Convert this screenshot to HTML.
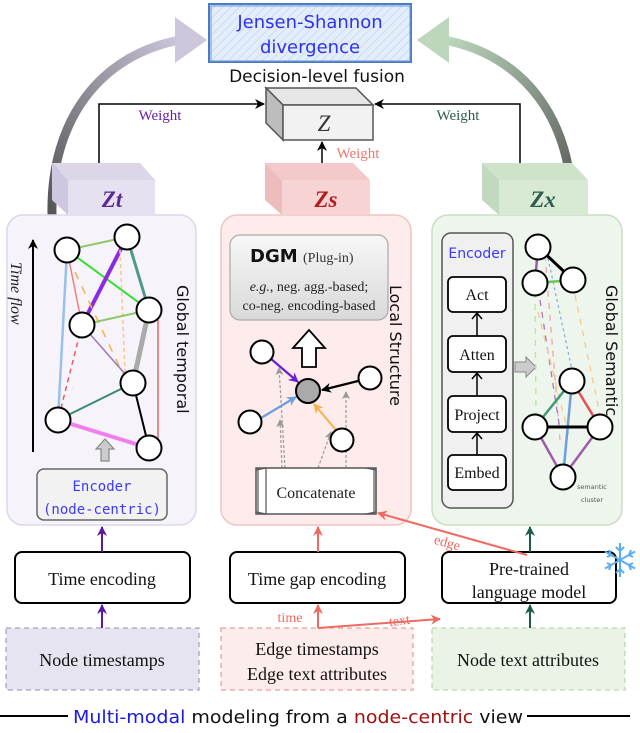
<!DOCTYPE html>
<html><head><meta charset="utf-8"><style>
body{margin:0;background:#fff}
svg{display:block}
.s{font-family:"Liberation Serif",serif}
.c{font-family:"DejaVu Sans",sans-serif}
.m{font-family:"DejaVu Sans Mono","Liberation Mono",monospace}
</style></head><body>
<svg width="640" height="733" viewBox="0 0 640 733" xmlns="http://www.w3.org/2000/svg">
<defs>
<marker id="ap" markerWidth="10" markerHeight="10" refX="9" refY="5" orient="auto" markerUnits="userSpaceOnUse"><path d="M0,0 L10,5 L0,10 L3,5z" fill="#5a17a8"/></marker>
<marker id="ar" markerWidth="10" markerHeight="10" refX="9" refY="5" orient="auto" markerUnits="userSpaceOnUse"><path d="M0,0 L10,5 L0,10 L3,5z" fill="#ee6a62"/></marker>
<marker id="ag" markerWidth="10" markerHeight="10" refX="9" refY="5" orient="auto" markerUnits="userSpaceOnUse"><path d="M0,0 L10,5 L0,10 L3,5z" fill="#1e5c4a"/></marker>
<marker id="au" markerWidth="10" markerHeight="10" refX="9" refY="5" orient="auto" markerUnits="userSpaceOnUse"><path d="M0,0 L10,5 L0,10 L3,5z" fill="#6a1fd0"/></marker>
<marker id="abl" markerWidth="10" markerHeight="10" refX="9" refY="5" orient="auto" markerUnits="userSpaceOnUse"><path d="M0,0 L10,5 L0,10 L3,5z" fill="#6c9ee0"/></marker>
<marker id="ao" markerWidth="10" markerHeight="10" refX="9" refY="5" orient="auto" markerUnits="userSpaceOnUse"><path d="M0,0 L10,5 L0,10 L3,5z" fill="#f6b04c"/></marker>
<marker id="ak" markerWidth="10" markerHeight="10" refX="9" refY="5" orient="auto" markerUnits="userSpaceOnUse"><path d="M0,0 L10,5 L0,10 L3,5z" fill="#000"/></marker>
<marker id="agr" markerWidth="8" markerHeight="8" refX="7" refY="4" orient="auto" markerUnits="userSpaceOnUse"><path d="M0,0 L8,4 L0,8 L2,4z" fill="#999"/></marker>
<linearGradient id="gL" x1="0" y1="1" x2="1" y2="0"><stop offset="0" stop-color="#555"/><stop offset="1" stop-color="#cdc6dc"/></linearGradient>
<linearGradient id="gR" x1="1" y1="1" x2="0" y2="0"><stop offset="0" stop-color="#555"/><stop offset="1" stop-color="#bcd7bc"/></linearGradient>
<linearGradient id="dg" x1="0" y1="0" x2="0" y2="1"><stop offset="0" stop-color="#f7f7f7"/><stop offset="1" stop-color="#d9d9d9"/></linearGradient>
<pattern id="hatch" width="6" height="6" patternUnits="userSpaceOnUse" patternTransform="rotate(45)"><line x1="0" y1="0" x2="0" y2="6" stroke="#b8d0ec" stroke-width="1.2"/></pattern>
</defs>

<path d="M52,215 C50,120 100,55 180,40" fill="none" stroke="url(#gL)" stroke-width="9"/>
<polygon points="175,17 207,40 175,63" fill="#cdc6dc"/>
<path d="M572,215 C574,120 524,55 444,40" fill="none" stroke="url(#gR)" stroke-width="9"/>
<polygon points="449,17 417,40 449,63" fill="#bcd7bc"/>

<rect x="209" y="4" width="202" height="58" fill="#e3eefa"/>
<rect x="209" y="4" width="202" height="58" fill="url(#hatch)" stroke="#4a7cc6" stroke-width="2"/>
<rect x="211" y="6" width="199" height="55" fill="none" stroke="#6d97d6" stroke-width="1"/>
<text x="310" y="28" text-anchor="middle" class="c" font-size="18" fill="#3030f0">Jensen-Shannon</text>
<text x="310" y="53" text-anchor="middle" class="c" font-size="18" fill="#3030f0">divergence</text>
<text x="317" y="82" text-anchor="middle" class="c" font-size="17" fill="#111">Decision-level fusion</text>

<polygon points="266,88 356,88 373,105 283,105" fill="#e6e6e6" stroke="#555" stroke-width="1.5"/>
<polygon points="266,88 283,105 283,140 266,123" fill="#bdbdbd" stroke="#555" stroke-width="1.5"/>
<rect x="283" y="105" width="90" height="35" fill="#f2f2f2" stroke="#555" stroke-width="1.5"/>
<text x="324" y="131" text-anchor="middle" class="s" font-style="italic" font-size="23" fill="#333">Z</text>

<path d="M99,163 V104 H264" fill="none" stroke="#000" stroke-width="1.5" marker-end="url(#ak)"/>
<text x="160" y="120" text-anchor="middle" class="s" font-size="15" fill="#6a1fa8">Weight</text>
<path d="M520,163 V104 H375" fill="none" stroke="#000" stroke-width="1.5" marker-end="url(#ak)"/>
<text x="458" y="120" text-anchor="middle" class="s" font-size="15" fill="#2f5d4c">Weight</text>
<path d="M322,163 V142" fill="none" stroke="#000" stroke-width="1.5" marker-end="url(#ak)"/>
<text x="358" y="158" text-anchor="middle" class="s" font-size="15" fill="#ee7770">Weight</text>

<rect x="7" y="215" width="189" height="310" rx="16" fill="#f6f4fa" stroke="#ddd6ea" stroke-width="1.5"/>
<rect x="221" y="215" width="190" height="310" rx="16" fill="#fdeceb" stroke="#f0c4c2" stroke-width="1.5"/>
<rect x="432" y="215" width="190" height="310" rx="16" fill="#eef5ec" stroke="#c8dfc4" stroke-width="1.5"/>

<g>
<polygon points="52,163 140,163 155,180 68,180" fill="#dcd6e8"/>
<polygon points="52,163 68,180 68,215 52,200" fill="#cfc7df"/>
<rect x="68" y="180" width="87" height="35" fill="#e6e1f0"/>
<text x="112" y="207" text-anchor="middle" class="s" font-style="italic" font-weight="bold" font-size="23" fill="#5b2a91">Zt</text>
<polygon points="265,163 353,163 370,180 282,180" fill="#f4c9c9"/>
<polygon points="265,163 282,180 282,215 265,200" fill="#eebcbc"/>
<rect x="282" y="180" width="88" height="35" fill="#f7d3d3"/>
<text x="326" y="207" text-anchor="middle" class="s" font-style="italic" font-weight="bold" font-size="23" fill="#b01d1d">Zs</text>
<polygon points="482,163 572,163 588,180 499,180" fill="#cfe3cb"/>
<polygon points="482,163 499,180 499,215 482,200" fill="#c1d9bd"/>
<rect x="499" y="180" width="89" height="35" fill="#d8e9d4"/>
<text x="543" y="207" text-anchor="middle" class="s" font-style="italic" font-weight="bold" font-size="23" fill="#2f5d4c">Zx</text>
</g>

<path d="M33,452 V240" stroke="#000" stroke-width="2" marker-end="url(#ak)"/>
<text transform="translate(11,262) rotate(90)" class="s" font-style="italic" font-size="16" fill="#222">Time flow</text>
<text transform="translate(177,285) rotate(90)" class="c" font-size="16" fill="#111">Global temporal</text>
<g fill="none">
<line x1="67" y1="250" x2="58" y2="420" stroke="#99c0e8" stroke-width="2.5"/>
<line x1="67" y1="250" x2="82" y2="325" stroke="#f08080" stroke-width="1.5"/>
<line x1="67" y1="250" x2="127" y2="237" stroke="#8fc96b" stroke-width="2"/>
<line x1="67" y1="250" x2="149" y2="310" stroke="#33dd33" stroke-width="2"/>
<line x1="127" y1="237" x2="82" y2="325" stroke="#8a2be2" stroke-width="4"/>
<line x1="127" y1="237" x2="149" y2="310" stroke="#4e9a86" stroke-width="3"/>
<line x1="120" y1="250" x2="125" y2="372" stroke="#f8c88a" stroke-width="1.5" stroke-dasharray="4,3"/>
<line x1="75" y1="272" x2="135" y2="400" stroke="#f8b04c" stroke-width="1.5" stroke-dasharray="8,8"/>
<line x1="82" y1="325" x2="149" y2="310" stroke="#8fc96b" stroke-width="2"/>
<line x1="82" y1="325" x2="58" y2="420" stroke="#ef5a5a" stroke-width="1.5" stroke-dasharray="5,4"/>
<line x1="82" y1="325" x2="133" y2="383" stroke="#9b7ac0" stroke-width="1.5"/>
<line x1="149" y1="310" x2="133" y2="383" stroke="#aaa" stroke-width="5"/>
<line x1="158" y1="320" x2="158" y2="440" stroke="#e05050" stroke-width="1.3"/>
<line x1="133" y1="383" x2="58" y2="420" stroke="#3e8a70" stroke-width="2"/>
<line x1="133" y1="383" x2="149" y2="448" stroke="#000" stroke-width="2"/>
<line x1="58" y1="420" x2="149" y2="448" stroke="#f07ef0" stroke-width="4"/>
</g>
<g fill="#fff" stroke="#000" stroke-width="2">
<circle cx="67" cy="250" r="12.5"/><circle cx="127" cy="237" r="12.5"/><circle cx="82" cy="325" r="12.5"/>
<circle cx="149" cy="310" r="12.5"/><circle cx="133" cy="383" r="12.5"/><circle cx="58" cy="420" r="12.5"/><circle cx="149" cy="448" r="12.5"/>
</g>
<polygon points="105,439 114,449 109,449 109,461 101,461 101,449 96,449" fill="#ccc" stroke="#888" stroke-width="1.2"/>
<rect x="37" y="469" width="130" height="51" rx="7" fill="#f2f2f2" stroke="#666" stroke-width="1.5"/>
<text x="102" y="491" text-anchor="middle" class="m" font-size="14" fill="#3b3bf5">Encoder</text>
<text x="102" y="514" text-anchor="middle" class="m" font-size="14" fill="#3b3bf5">(node-centric)</text>

<rect x="230" y="235" width="158" height="85" rx="10" fill="url(#dg)" stroke="#aaa" stroke-width="1.2"/>
<text x="250" y="262" class="c" font-weight="bold" font-size="18" fill="#111">DGM</text>
<text x="303" y="262" class="s" font-size="14" fill="#333">(Plug-in)</text>
<text x="309" y="291" text-anchor="middle" class="s" font-size="14" fill="#222"><tspan font-style="italic">e.g.</tspan>, neg. agg.-based;</text>
<text x="309" y="310" text-anchor="middle" class="s" font-size="14" fill="#222">co-neg. encoding-based</text>
<polygon points="309,330 325,348 316,348 316,367 302,367 302,348 293,348" fill="#fff" stroke="#000" stroke-width="1.8"/>
<text transform="translate(390,285) rotate(90)" class="c" font-size="16" fill="#111">Local Structure</text>
<g stroke="#999" stroke-width="1.2" stroke-dasharray="3,2" fill="none">
<line x1="285" y1="468" x2="279" y2="368" marker-end="url(#agr)"/>
<line x1="282" y1="468" x2="280" y2="420" marker-end="url(#agr)"/>
<line x1="318" y1="468" x2="331" y2="432" marker-end="url(#agr)"/>
<line x1="346" y1="468" x2="346" y2="392" marker-end="url(#agr)"/>
</g>
<line x1="270" y1="358" x2="298" y2="382" stroke="#6a1fd0" stroke-width="2.2" marker-end="url(#au)"/>
<line x1="261" y1="418" x2="296" y2="397" stroke="#6c9ee0" stroke-width="2.2" marker-end="url(#abl)"/>
<line x1="358" y1="381" x2="322" y2="390" stroke="#000" stroke-width="2.2" marker-end="url(#ak)"/>
<line x1="336" y1="430" x2="314" y2="404" stroke="#f6b04c" stroke-width="2" marker-end="url(#ao)"/>
<g fill="#fff" stroke="#000" stroke-width="2">
<circle cx="262" cy="352" r="11.5"/><circle cx="250" cy="422" r="11.5"/><circle cx="370" cy="378" r="11.5"/><circle cx="342" cy="440" r="11.5"/>
</g>
<circle cx="308" cy="391" r="12" fill="#aaa" stroke="#000" stroke-width="2"/>
<rect x="256" y="468" width="120" height="46" fill="#fff" stroke="#555" stroke-width="1.5"/>
<path d="M256,470 L266,468 L266,514 L256,512 M366,468 L376,470 L376,512 L366,514 M258,468 V514 M374,468 V514" fill="none" stroke="#555" stroke-width="1.2"/>
<text x="316" y="498" text-anchor="middle" class="s" font-size="16" fill="#222">Concatenate</text>

<rect x="442" y="233" width="71" height="275" rx="9" fill="#f0f0f0" stroke="#555" stroke-width="1.5"/>
<text x="477" y="258" text-anchor="middle" class="c" font-size="14" fill="#3b3bf5">Encoder</text>
<g fill="#fff" stroke="#000" stroke-width="1.8">
<rect x="448" y="277" width="58" height="35" rx="5"/><rect x="448" y="336" width="58" height="36" rx="5"/>
<rect x="448" y="396" width="58" height="36" rx="5"/><rect x="448" y="455" width="58" height="35" rx="5"/>
</g>
<g class="s" font-size="16" text-anchor="middle" fill="#111">
<text x="477" y="300">Act</text><text x="477" y="360">Atten</text><text x="477" y="420">Project</text><text x="477" y="478">Embed</text>
</g>
<g stroke="#000" stroke-width="1.5" fill="none">
<path d="M477,336 V313 M472,319 L477,313 L482,319"/><path d="M477,396 V373 M472,379 L477,373 L482,379"/><path d="M477,455 V433 M472,439 L477,433 L482,439"/>
</g>
<polygon points="515,362 526,362 526,357 536,367 526,377 526,372 515,372" fill="#ccc" stroke="#888" stroke-width="1"/>
<text transform="translate(606,285) rotate(90)" class="c" font-size="16" fill="#111">Global Semantic</text>
<g fill="none" stroke-width="1.3" stroke-dasharray="6,6">
<line x1="535" y1="292" x2="536" y2="415" stroke="#b6ea8a"/>
<line x1="545" y1="255" x2="560" y2="440" stroke="#f0a8a8"/>
<line x1="548" y1="258" x2="572" y2="370" stroke="#88aee8" stroke-dasharray="3,3"/>
<line x1="575" y1="295" x2="600" y2="415" stroke="#f8c88a"/>
<line x1="540" y1="300" x2="560" y2="430" stroke="#a87ac0"/>
<line x1="538" y1="312" x2="570" y2="440" stroke="#f8c88a"/>
</g>
<g fill="none">
<line x1="538" y1="247" x2="535" y2="283" stroke="#9b5ea8" stroke-width="2.5"/>
<line x1="538" y1="247" x2="573" y2="280" stroke="#000" stroke-width="3"/>
<line x1="535" y1="283" x2="573" y2="280" stroke="#6ec75a" stroke-width="2.5"/>
<line x1="572" y1="381" x2="535" y2="427" stroke="#3e9a78" stroke-width="2.5"/>
<line x1="572" y1="381" x2="600" y2="427" stroke="#e85050" stroke-width="2.5"/>
<line x1="572" y1="381" x2="563" y2="477" stroke="#6c9ee0" stroke-width="2.5"/>
<line x1="535" y1="427" x2="600" y2="427" stroke="#000" stroke-width="3"/>
<line x1="535" y1="427" x2="563" y2="477" stroke="#9b5ea8" stroke-width="2.5"/>
<line x1="600" y1="427" x2="563" y2="477" stroke="#9b5ea8" stroke-width="2.5"/>
</g>
<g fill="#fff" stroke="#000" stroke-width="2">
<circle cx="538" cy="247" r="12.5"/><circle cx="535" cy="283" r="12.5"/><circle cx="573" cy="280" r="12.5"/>
<circle cx="572" cy="381" r="12.5"/><circle cx="535" cy="427" r="12.5"/><circle cx="600" cy="427" r="12.5"/><circle cx="563" cy="477" r="12.5"/>
</g>
<text x="577" y="489" class="c" font-size="6.5" fill="#555">semantic</text>
<text x="581" y="502" class="c" font-size="6.5" fill="#555">cluster</text>

<rect x="15" y="552" width="175" height="51" rx="7" fill="#fff" stroke="#000" stroke-width="2"/>
<text x="102" y="585" text-anchor="middle" class="s" font-size="18" fill="#111">Time encoding</text>
<rect x="230" y="552" width="175" height="51" rx="7" fill="#fff" stroke="#000" stroke-width="2"/>
<text x="317" y="585" text-anchor="middle" class="s" font-size="18" fill="#111">Time gap encoding</text>
<rect x="442" y="552" width="174" height="51" rx="7" fill="#fff" stroke="#000" stroke-width="2"/>
<text x="529" y="575" text-anchor="middle" class="s" font-size="18" fill="#111">Pre-trained</text>
<text x="529" y="598" text-anchor="middle" class="s" font-size="18" fill="#111">language model</text>
<g stroke="#5aaef0" stroke-width="2" fill="none" transform="translate(620,560)">
<line x1="0" y1="-17" x2="0" y2="17"/><line x1="-15" y1="-8.5" x2="15" y2="8.5"/><line x1="-15" y1="8.5" x2="15" y2="-8.5"/>
<path d="M-4,-13 L0,-9 L4,-13 M-4,13 L0,9 L4,13 M-13,-3 L-9,-5 L-11,-10 M13,3 L9,5 L11,10 M-13,3 L-9,5 L-11,10 M13,-3 L9,-5 L11,-10"/>
</g>

<rect x="6" y="628" width="193" height="62" fill="#e6e4f0" stroke="#a9a0c4" stroke-width="1.3" stroke-dasharray="5,4"/>
<text x="102" y="666" text-anchor="middle" class="s" font-size="18" fill="#111">Node timestamps</text>
<rect x="221" y="628" width="192" height="62" fill="#fceceb" stroke="#e8a09c" stroke-width="1.3" stroke-dasharray="5,4"/>
<text x="317" y="655" text-anchor="middle" class="s" font-size="18" fill="#111">Edge timestamps</text>
<text x="317" y="680" text-anchor="middle" class="s" font-size="18" fill="#111">Edge text attributes</text>
<rect x="432" y="628" width="193" height="62" fill="#eaf3e6" stroke="#b9d9ac" stroke-width="1.3" stroke-dasharray="5,4"/>
<text x="528" y="666" text-anchor="middle" class="s" font-size="18" fill="#111">Node text attributes</text>

<line x1="102" y1="628" x2="102" y2="605" stroke="#5a17a8" stroke-width="2" marker-end="url(#ap)"/>
<line x1="102" y1="552" x2="102" y2="527" stroke="#5a17a8" stroke-width="2" marker-end="url(#ap)"/>
<line x1="318" y1="628" x2="318" y2="605" stroke="#ee6a62" stroke-width="2" marker-end="url(#ar)"/>
<text x="290" y="622" text-anchor="middle" class="s" font-size="14" fill="#ee6a62">time</text>
<line x1="318" y1="628" x2="440" y2="619" stroke="#ee6a62" stroke-width="2" marker-end="url(#ar)"/>
<text transform="translate(400,625) rotate(-8)" text-anchor="middle" class="s" font-size="14" fill="#ee6a62">text</text>
<line x1="318" y1="552" x2="318" y2="527" stroke="#ee6a62" stroke-width="2" marker-end="url(#ar)"/>
<line x1="527" y1="555" x2="378" y2="513" stroke="#ee6a62" stroke-width="2" marker-end="url(#ar)"/>
<text transform="translate(446,547) rotate(16)" text-anchor="middle" class="s" font-size="14" fill="#ee6a62">edge</text>
<line x1="530" y1="628" x2="530" y2="605" stroke="#1e5c4a" stroke-width="2" marker-end="url(#ag)"/>
<line x1="530" y1="552" x2="530" y2="527" stroke="#1e5c4a" stroke-width="2" marker-end="url(#ag)"/>

<line x1="0" y1="716" x2="68" y2="716" stroke="#000" stroke-width="2"/>
<line x1="527" y1="716" x2="630" y2="716" stroke="#000" stroke-width="2"/>
<text x="298" y="723" text-anchor="middle" class="c" font-size="18" fill="#111" textLength="450" lengthAdjust="spacingAndGlyphs"><tspan fill="#1a1ae0">Multi-modal</tspan> modeling from a <tspan fill="#a01010">node-centric</tspan> view</text>
</svg>
</body></html>
